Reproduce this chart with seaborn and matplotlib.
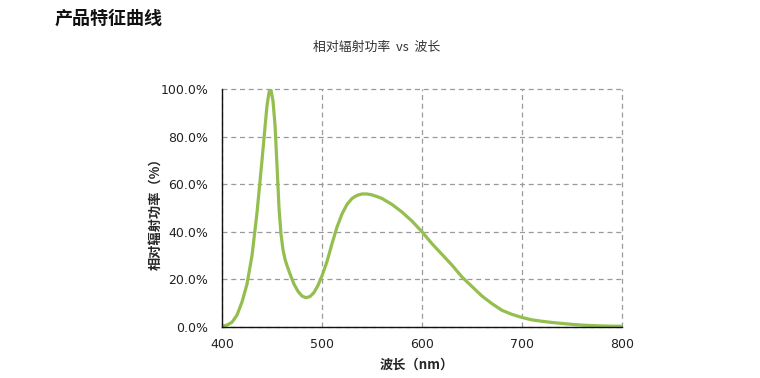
import matplotlib
matplotlib.use("Agg")
import matplotlib.pyplot as plt
import seaborn as sns
import pandas as pd
from matplotlib.ticker import FuncFormatter

wavelength = [400, 405, 410, 415, 420, 425, 430, 435, 440, 443, 445, 447, 448, 449, 451,
              453, 455, 457, 459, 461, 463, 465, 468, 472, 476, 480, 484, 488, 492, 496,
              500, 505, 510, 515, 520, 525, 530, 535, 540, 545, 550, 555, 560, 570, 580,
              590, 600, 610, 620, 630, 640, 650, 660, 670, 680, 690, 700, 710, 720, 730,
              740, 750, 760, 770, 780, 790, 800]
power = [0.3, 0.8, 2.0, 5.0, 10.5, 18.0, 30.0, 48.0, 70.0, 84.0, 93.0, 98.5, 100.0, 99.5, 95.0,
         85.0, 68.0, 50.0, 39.0, 32.5, 28.5, 25.8, 22.3, 18.0, 15.0, 13.0, 12.3, 12.8, 14.5, 17.5,
         21.5, 27.5, 35.0, 42.0, 47.5, 51.5, 54.0, 55.3, 55.9, 55.9, 55.5, 54.8, 54.0, 51.5, 48.3,
         44.5, 40.0, 35.0, 30.5, 26.0, 21.0, 17.0, 13.0, 9.8, 7.0, 5.3, 4.0, 3.0, 2.4, 1.9,
         1.5, 1.1, 0.8, 0.6, 0.45, 0.35, 0.3]
x_ticks = [400, 500, 600, 700, 800]
y_ticks = [0, 20, 40, 60, 80, 100]

title = "产品特征曲线"
subtitle = "相对辐射功率  vs  波长"
xlabel = "波长（nm）"
ylabel = "相对辐射功率（%）"

sns.set_style("white")
plt.rcParams['font.family'] = ['DejaVu Sans', 'Noto Sans CJK SC']
cjk = ['Noto Sans CJK SC', 'DejaVu Sans']

df = pd.DataFrame({"wl": wavelength, "p": power})

fig = plt.figure(figsize=(7.6, 3.78), dpi=100)
ax = fig.add_axes([222/760, 51/378, 400/760, 238/378])

sns.lineplot(data=df, x="wl", y="p", ax=ax, color="#94BE4E", linewidth=2.3, zorder=3)
ax.lines[0].set_solid_joinstyle("round")

ax.set_xlim(400, 800)
ax.set_ylim(0, 100)
ax.set_xticks(x_ticks)
ax.set_yticks(y_ticks)
ax.yaxis.set_major_formatter(FuncFormatter(lambda v, p: f"{v:.1f}%"))
ax.grid(True, color="#9A9A9A", linestyle=(0, (4, 3)), linewidth=0.9)
for gl in ax.get_xgridlines() + ax.get_ygridlines():
    gl.set_clip_on(False)
for s in ["top", "right"]:
    ax.spines[s].set_visible(False)
for s in ["left", "bottom"]:
    ax.spines[s].set_color("#111111")
    ax.spines[s].set_linewidth(1.0)
    ax.spines[s].set_zorder(4)
ax.tick_params(axis="both", length=0, labelsize=9, colors="#222222")
ax.tick_params(axis="x", pad=8)
ax.tick_params(axis="y", pad=10)

ax.set_xlabel(xlabel, fontfamily=cjk, fontweight="bold", fontsize=9.5)
ax.set_ylabel(ylabel, fontfamily=cjk, fontweight="bold", fontsize=9.5)
ax.xaxis.set_label_coords(0.4875, -0.13)
ax.yaxis.set_label_coords(-0.15, 0.49)

fig.text(55/760, 1 - 18/378, title, fontfamily=cjk, fontweight="bold",
         fontsize=13, va="center", ha="left", color="#111111")
fig.text(377/760, 1 - 47/378, subtitle, fontfamily=cjk, fontsize=9.3,
         va="center", ha="center", color="#333333")

fig.savefig("out.png", dpi=100, facecolor="white")
